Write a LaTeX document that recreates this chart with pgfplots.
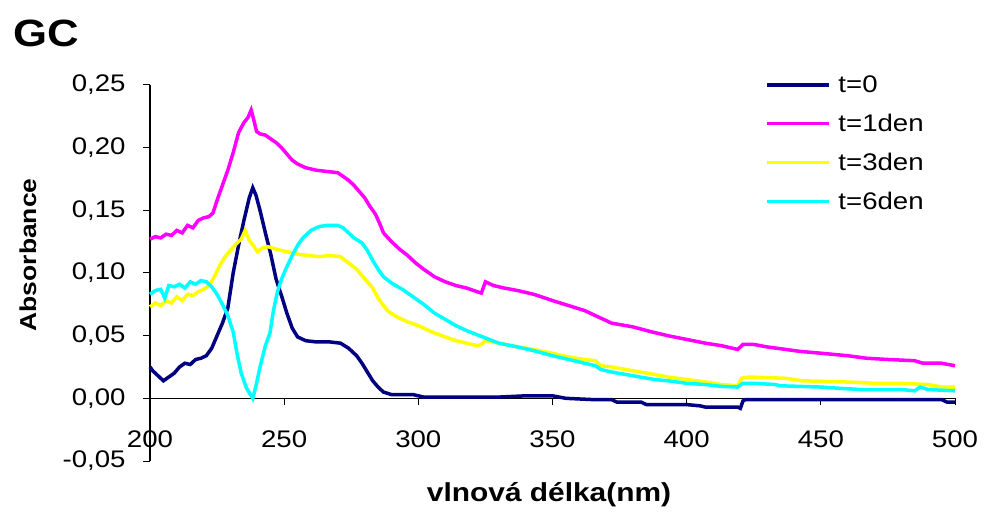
\documentclass[border=0pt]{standalone}
\usepackage{fontspec}
\setmainfont{Liberation Sans}[FakeStretch=1.15]
\usepackage{pgfplots}
\pgfplotsset{compat=1.18}
\definecolor{cnavy}{RGB}{0,0,128}
\definecolor{cmag}{RGB}{255,0,255}
\definecolor{cyel}{RGB}{255,255,0}
\definecolor{ccyan}{RGB}{0,255,255}
\begin{document}
\begin{tikzpicture}
\begin{axis}[
  at={(0,0)}, anchor=south west,
  scale only axis, width=805bp, height=376bp,
  xmin=200, xmax=500, ymin=-0.05, ymax=0.25,
  axis x line*=middle, axis y line*=left,
  hide obscured x ticks=false,
  xtick={200,250,300,350,400,450,500},
  xticklabels={200,250,300,350,400,450,500},
  ytick={-0.05,0,0.05,0.1,0.15,0.2,0.25},
  yticklabels={{-0,05},{0,00},{0,05},{0,10},{0,15},{0,20},{0,25}},
  tick align=outside, major tick length=7bp,
  tick style={black, line width=1bp},
  axis line style={black, line width=1.3bp, -},
  ticklabel style={font=\fontsize{24bp}{24bp}\selectfont},
  xticklabel style={yshift=-22bp},
  yticklabel style={xshift=-14bp},
  xlabel={\textbf{vlnová délka(nm)}},
  xlabel style={at={(axis description cs:0.4957,-0.09)}, anchor=center, font=\fontsize{26bp}{26bp}\selectfont},
  ylabel={\textbf{Absorbance}},
  ylabel style={at={(axis description cs:-0.1516,0.548)}, anchor=center, font=\fontsize{23bp}{23bp}\selectfont},
  title={\textbf{GC}},
  title style={at={(axis description cs:-0.1735,1.12)}, anchor=west, font=\fontsize{38bp}{38bp}\selectfont},
  clip=false,
  legend style={draw=none, fill=none, at={(0.76,1.035)}, anchor=north west,
    font=\fontsize{24bp}{24bp}\selectfont, row sep=16bp,
    /tikz/every odd column/.append style={column sep=6bp}},
  legend cell align=left,
  legend image code/.code={\draw[#1, line width=3.5bp] (0bp,0bp) -- (62bp,0bp);},
  every axis plot/.append style={line width=3.5bp, mark=none},
]
\addplot[cnavy] coordinates {(200,0.025)(201,0.022)(203,0.018)(205,0.014)(207,0.017)(209,0.020)(211,0.025)(213,0.028)(215,0.027)(217,0.031)(219,0.032)(221,0.034)(223,0.040)(225,0.050)(227,0.060)(229,0.072)(231,0.100)(233,0.122)(235,0.142)(237,0.160)(238.3,0.168)(239.5,0.162)(241,0.150)(243,0.132)(245,0.115)(247,0.095)(249,0.082)(251,0.068)(253,0.056)(255,0.049)(258,0.046)(262,0.045)(267,0.045)(271,0.044)(274,0.040)(277,0.034)(279,0.028)(281,0.021)(283,0.014)(285,0.009)(287,0.005)(290,0.003)(295,0.003)(298,0.003)(302,0.001)(310,0.001)(330,0.001)(340,0.002)(350,0.002)(355,0.0)(365,-0.001)(372,-0.001)(374,-0.003)(383,-0.003)(385,-0.005)(400,-0.005)(405,-0.006)(407,-0.007)(419,-0.007)(420,-0.008)(421,-0.002)(422,-0.001)(495,-0.001)(497,-0.003)(500,-0.003)};
\addlegendentry{t=0}
\addplot[cmag] coordinates {(200,0.127)(202,0.129)(204,0.128)(206,0.131)(208,0.130)(210,0.134)(212,0.132)(214,0.138)(216,0.136)(218,0.142)(220,0.144)(222,0.145)(223.5,0.148)(225,0.158)(227,0.170)(229,0.182)(231,0.196)(233,0.212)(235,0.220)(236.5,0.224)(237.7,0.230)(238.7,0.222)(239.7,0.213)(241,0.211)(243,0.210)(245,0.207)(247,0.204)(249,0.200)(251,0.195)(253,0.190)(255,0.187)(258,0.184)(262,0.182)(266,0.181)(270,0.180)(272,0.177)(274,0.174)(276,0.170)(278,0.165)(280,0.160)(282,0.153)(284,0.147)(285.5,0.140)(287,0.132)(290,0.125)(293,0.119)(296,0.114)(299,0.108)(302,0.103)(306,0.097)(310,0.093)(314,0.090)(318,0.088)(322,0.085)(323.5,0.084)(325,0.093)(328,0.090)(332,0.088)(337,0.086)(343,0.083)(350,0.078)(356,0.074)(362,0.070)(368,0.064)(372,0.060)(380,0.057)(387,0.053)(393,0.050)(400,0.047)(407,0.044)(413,0.042)(417,0.040)(419,0.039)(421,0.043)(425,0.043)(430,0.041)(437,0.039)(442,0.0375)(450,0.036)(460,0.034)(467,0.032)(475,0.031)(485,0.030)(488,0.028)(495,0.028)(500,0.026)};
\addlegendentry{t=1den}
\addplot[cyel] coordinates {(200,0.073)(202,0.076)(204,0.074)(206,0.078)(208,0.076)(210,0.081)(212,0.078)(214,0.083)(216,0.082)(218,0.085)(220,0.087)(222,0.090)(224,0.097)(226,0.106)(228,0.113)(230,0.118)(232,0.123)(234,0.127)(235.5,0.134)(237,0.126)(238.5,0.122)(240,0.117)(242,0.120)(244,0.121)(247,0.119)(251,0.117)(255,0.115)(259,0.114)(263,0.113)(267,0.114)(271,0.113)(274,0.108)(277,0.103)(279,0.098)(281,0.093)(283,0.088)(285,0.080)(287,0.074)(289,0.069)(292,0.065)(296,0.061)(300,0.058)(305,0.053)(310,0.049)(314,0.046)(318,0.044)(322,0.042)(323.5,0.043)(325,0.046)(330,0.044)(337,0.041)(343,0.039)(350,0.036)(356,0.033)(362,0.031)(366,0.030)(368,0.026)(372,0.025)(380,0.022)(388,0.019)(393,0.017)(400,0.015)(407,0.013)(413,0.011)(419,0.010)(420.5,0.016)(423,0.017)(437,0.016)(443,0.014)(460,0.013)(470,0.012)(480,0.012)(490,0.011)(495,0.009)(500,0.009)};
\addlegendentry{t=3den}
\addplot[ccyan] coordinates {(200,0.083)(202,0.086)(204,0.087)(205.5,0.080)(207,0.090)(209,0.089)(211,0.091)(213,0.088)(215,0.093)(217,0.091)(219,0.094)(221,0.093)(223,0.089)(225,0.083)(227,0.075)(229,0.066)(231,0.053)(232.5,0.035)(234,0.020)(236,0.008)(238.3,0.000)(239.5,0.010)(241,0.025)(243,0.042)(244.7,0.052)(246,0.070)(247.5,0.085)(249,0.095)(251,0.105)(253,0.114)(255,0.122)(257,0.128)(260,0.134)(263,0.137)(266,0.138)(270,0.138)(272,0.136)(274,0.132)(276,0.128)(279,0.124)(281,0.118)(283,0.110)(285,0.103)(287,0.097)(290,0.092)(294,0.087)(298,0.081)(302,0.075)(306,0.068)(310,0.063)(314,0.058)(318,0.054)(324,0.049)(330,0.044)(337,0.041)(343,0.038)(350,0.034)(356,0.031)(362,0.028)(366,0.026)(368,0.023)(372,0.021)(380,0.018)(388,0.015)(393,0.014)(400,0.012)(407,0.011)(413,0.0095)(419,0.009)(421,0.012)(425,0.012)(433,0.011)(435,0.010)(450,0.009)(457,0.008)(465,0.007)(480,0.007)(485,0.006)(487,0.009)(490,0.007)(500,0.006)};
\addlegendentry{t=6den}
\end{axis}
\pgfresetboundingbox
\path[use as bounding box] (-150bp,-54bp) rectangle (834bp,461bp);
\end{tikzpicture}
\end{document}
